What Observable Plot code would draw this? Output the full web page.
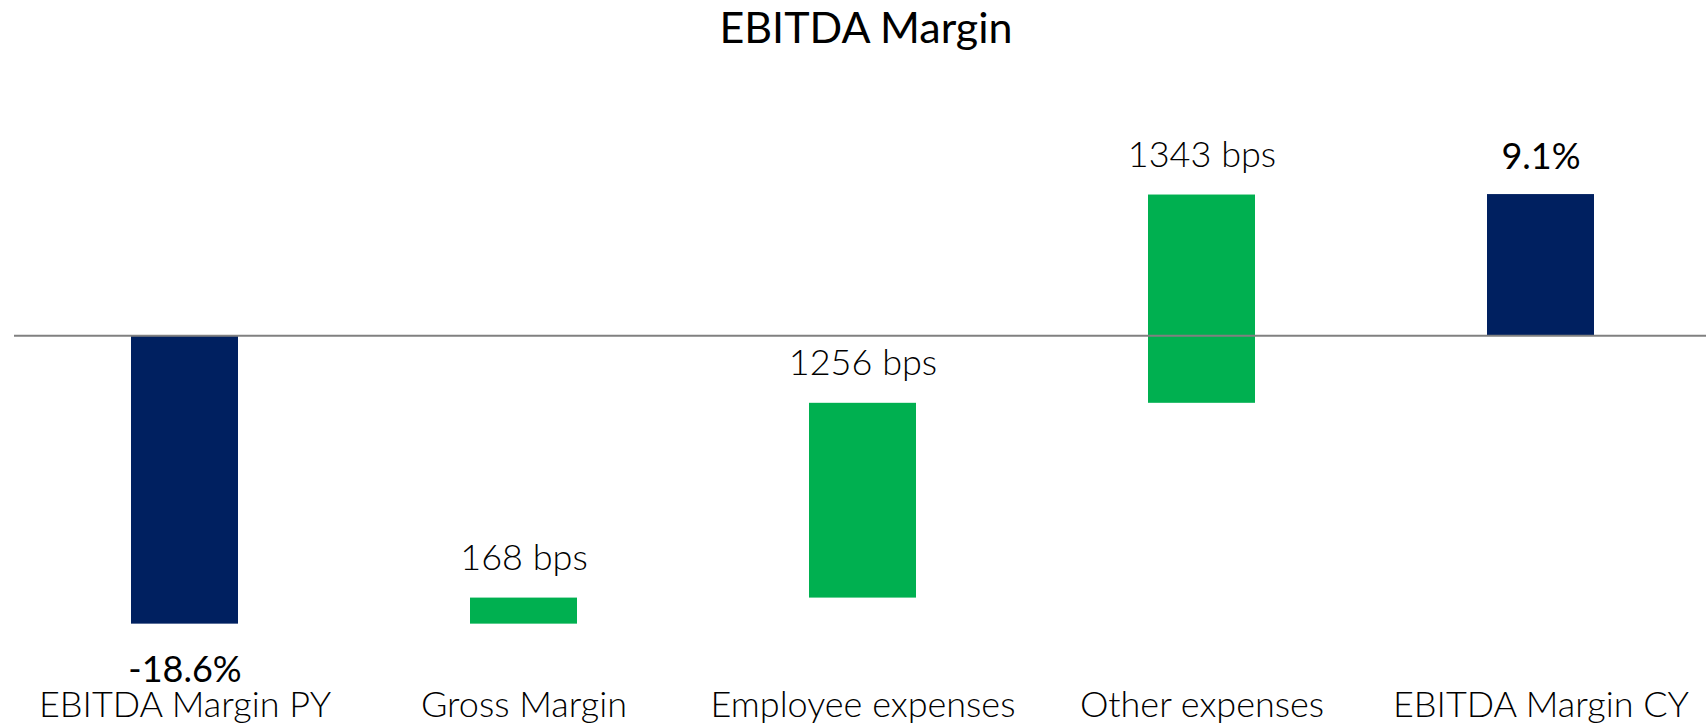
<!DOCTYPE html>
<html>
<head>
<meta charset="utf-8">
<script src="https://cdn.jsdelivr.net/npm/d3@7"></script>
<script src="https://cdn.jsdelivr.net/npm/@observablehq/plot@0.6"></script>
<style>
  html, body { margin: 0; padding: 0; background: #fff; }
  #title {
    width: 1706px; height: 70px; line-height: 54px;
    font-family: "Segoe UI", Lato, "Open Sans", sans-serif;
    font-size: 43px; font-weight: 400; color: #000;
    text-align: center; padding-left: 26px; box-sizing: border-box;
  }
  #chart svg { display: block; }
</style>
</head>
<body>
<div id="title">EBITDA Margin</div>
<div id="chart"></div>
<script>
const categories = ["EBITDA Margin PY", "Gross Margin", "Employee expenses", "Other expenses", "EBITDA Margin CY"];
const values = [-18.6, 1.68, 12.56, 13.43, 9.1];
const kinds = ["total", "delta", "delta", "delta", "total"];
const labels = ["-18.6%", "168 bps", "1256 bps", "1343 bps", "9.1%"];

let cum = 0;
const table = categories.map((c, i) => {
  let y1, y2;
  if (kinds[i] === "total") { y1 = 0; y2 = values[i]; cum = values[i]; }
  else { y1 = cum; y2 = cum + values[i]; cum = y2; }
  return {cat: c, y1, y2, kind: kinds[i], label: labels[i], top: Math.max(y1, y2), bottom: Math.min(y1, y2), value: values[i]};
});

const font = "Segoe UI Light, Lato, Open Sans, sans-serif";

const chart = Plot.plot({
  width: 1706,
  height: 656,
  marginLeft: 14,
  marginRight: 0,
  marginTop: 0,
  marginBottom: 0,
  style: {fontFamily: font, background: "#fff"},
  x: {domain: categories, paddingInner: 0.685, paddingOuter: 0.334, align: 0.51, axis: null},
  y: {domain: [-25.2, 17.1], axis: null},
  marks: [
    Plot.barY(table, {
      x: "cat", y1: "y1", y2: "y2",
      fill: d => d.kind === "total" ? "#002060" : "#00B050",
      inset: 0
    }),
    Plot.ruleY([0], {stroke: "#808080", strokeWidth: 2}),
    // bps labels above change bars (light)
    Plot.text(table.filter(d => d.kind === "delta"), {
      x: "cat", y: "top", text: "label",
      lineAnchor: "bottom", dy: -28,
      fontSize: 36, fontWeight: 300, fill: "#000",
      fontFamily: font
    }),
    // total label above positive total bar
    Plot.text(table.filter(d => d.kind === "total" && d.value > 0), {
      x: "cat", y: "top", text: "label",
      lineAnchor: "bottom", dy: -26,
      fontSize: 36, fontWeight: 400, fill: "#000",
      fontFamily: font
    }),
    // total label below negative total bar
    Plot.text(table.filter(d => d.kind === "total" && d.value < 0), {
      x: "cat", y: "bottom", text: "label",
      lineAnchor: "top", dy: 32,
      fontSize: 36, fontWeight: 400, fill: "#000",
      fontFamily: font
    }),
    // category labels
    Plot.text(categories, {
      x: d => d, text: d => d,
      frameAnchor: "bottom", lineAnchor: "bottom", dy: -10,
      fontSize: 36, fontWeight: 300, fill: "#000",
      fontFamily: font
    })
  ]
});
document.getElementById("chart").appendChild(chart);
</script>
</body>
</html>
